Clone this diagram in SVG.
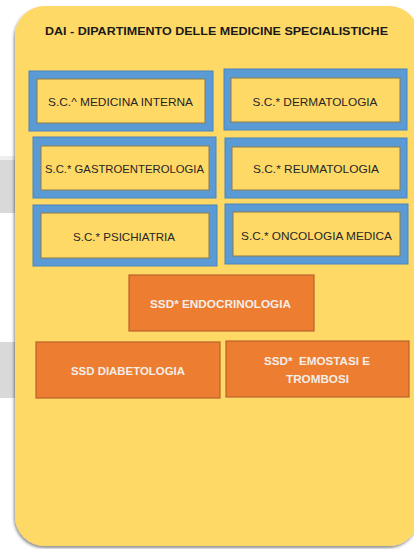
<svg xmlns="http://www.w3.org/2000/svg" width="414" height="549" viewBox="0 0 414 549">
<defs>
<filter id="sh" x="-5%" y="-5%" width="115%" height="115%">
<feDropShadow dx="-1" dy="2" stdDeviation="1.5" flood-color="#000" flood-opacity="0.45"/>
</filter>
<style>
.outer{fill:#5B9BD5;stroke:#4A84BC;stroke-width:1}
.inner{fill:#FFD966;stroke:#8C7B4F;stroke-width:1}
.orange{fill:#ED7D31;stroke:#B9612A;stroke-width:1.2}
.t{font-family:"Liberation Sans",Arial,sans-serif;font-size:11.5px;fill:#262626;text-anchor:middle}
.w{font-family:"Liberation Sans",Arial,sans-serif;font-size:11.5px;font-weight:bold;fill:#F4EDE8;text-anchor:middle}
.title{font-family:"Liberation Sans",Arial,sans-serif;font-size:11.5px;font-weight:bold;fill:#1a1a1a;text-anchor:middle}
</style>
</defs>
<rect width="414" height="549" fill="#ffffff"/>
<rect x="0" y="156" width="18" height="4" fill="#eeeeee"/>
<rect x="0" y="160" width="18" height="53" fill="#D9D9D9"/>
<rect x="0" y="342" width="18" height="56" fill="#D9D9D9"/>
<g id="dai">
<rect x="15" y="6" width="404" height="540" rx="30" fill="#FED966" filter="url(#sh)"/>
<text class="title" x="216.5" y="34.5" textLength="343" lengthAdjust="spacingAndGlyphs">DAI - DIPARTIMENTO DELLE MEDICINE SPECIALISTICHE</text>
</g>
<g id="medicina-interna">
<rect class="outer" x="29" y="71" width="184" height="60"/>
<rect class="inner" x="37" y="79" width="168" height="44"/>
<text class="t" x="120.5" y="106" textLength="145" lengthAdjust="spacingAndGlyphs">S.C.^ MEDICINA INTERNA</text>
</g>
<g id="dermatologia">
<rect class="outer" x="224" y="69" width="183" height="61"/>
<rect class="inner" x="231" y="78" width="169" height="44"/>
<text class="t" x="315" y="105.5" textLength="125" lengthAdjust="spacingAndGlyphs">S.C.* DERMATOLOGIA</text>
</g>
<g id="gastroenterologia">
<rect class="outer" x="33" y="137" width="183" height="61"/>
<rect class="inner" x="41" y="146" width="168" height="44"/>
<text class="t" x="124.5" y="173" textLength="159" lengthAdjust="spacingAndGlyphs">S.C.* GASTROENTEROLOGIA</text>
</g>
<g id="reumatologia">
<rect class="outer" x="225" y="138" width="182" height="60"/>
<rect class="inner" x="232" y="147" width="168" height="43"/>
<text class="t" x="316" y="173" textLength="126" lengthAdjust="spacingAndGlyphs">S.C.* REUMATOLOGIA</text>
</g>
<g id="psichiatria">
<rect class="outer" x="33" y="205" width="184" height="61"/>
<rect class="inner" x="41" y="213" width="168" height="45"/>
<text class="t" x="124" y="241" textLength="102" lengthAdjust="spacingAndGlyphs">S.C.* PSICHIATRIA</text>
</g>
<g id="oncologia-medica">
<rect class="outer" x="225" y="204" width="183" height="60"/>
<rect class="inner" x="233" y="212" width="167" height="44"/>
<text class="t" x="316.5" y="240" textLength="151" lengthAdjust="spacingAndGlyphs">S.C.* ONCOLOGIA MEDICA</text>
</g>
<g id="endocrinologia">
<rect class="orange" x="129" y="275" width="185" height="56"/>
<text class="w" x="220.5" y="307.5" textLength="141" lengthAdjust="spacingAndGlyphs">SSD* ENDOCRINOLOGIA</text>
</g>
<g id="diabetologia">
<rect class="orange" x="36" y="342" width="184" height="56"/>
<text class="w" x="128" y="375" textLength="114" lengthAdjust="spacingAndGlyphs">SSD DIABETOLOGIA</text>
</g>
<g id="emostasi-trombosi">
<rect class="orange" x="226" y="341" width="183" height="56"/>
<text class="w" x="317" y="365" textLength="106" lengthAdjust="spacingAndGlyphs" xml:space="preserve">SSD*  EMOSTASI E</text>
<text class="w" x="317.5" y="382.5" textLength="63" lengthAdjust="spacingAndGlyphs">TROMBOSI</text>
</g>
<g id="connectors"/>
</svg>
